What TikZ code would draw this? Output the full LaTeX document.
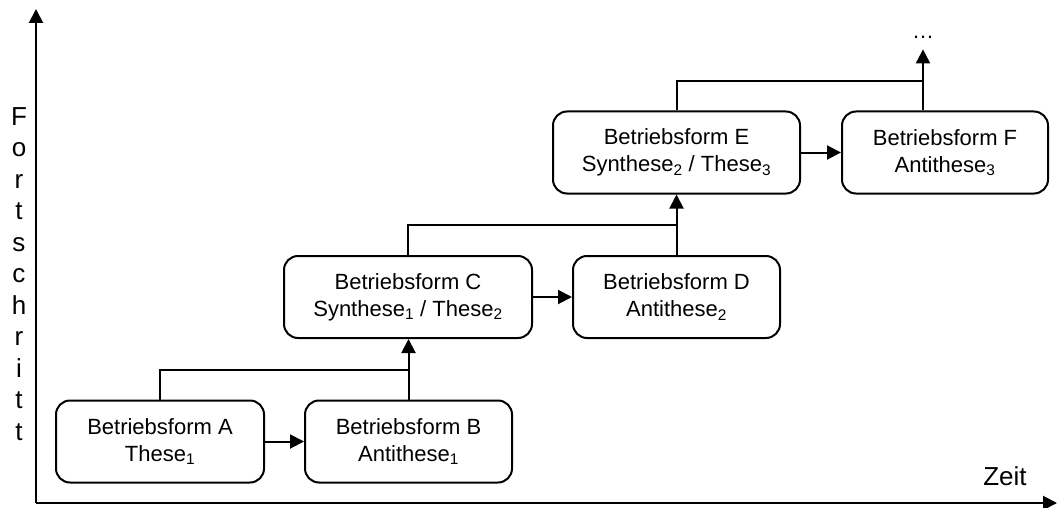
\documentclass[tikz,border=0pt]{standalone}
\usepackage{fontspec}
\setmainfont{Liberation Sans}
\usepackage{tikz}
\definecolor{white}{rgb}{1.0, 1.0, 1.0}
\definecolor{black}{rgb}{0.0, 0.0, 0.0}
\usetikzlibrary{arrows.meta}
\pgfdeclarelayer{edgelayer}
\pgfdeclarelayer{nodelayer}
\pgfsetlayers{edgelayer,nodelayer,main}
\tikzstyle{form}=[rectangle,rounded corners=14pt,fill=white,draw=black,line width=2pt,minimum height=82pt,align=center,font=\fontsize{22}{27}\selectfont]
\tikzstyle{axislabel}=[inner sep=0pt,font=\fontsize{26}{31}\selectfont]
\tikzstyle{link}=[line width=2pt,-{Triangle[length=14pt,width=14pt]}]

\begin{document}
\begin{tikzpicture}[x=1pt,y=-1pt]
        \useasboundingbox (0, 0) rectangle (1057, 508);
        \begin{pgfonlayer}{nodelayer}
            \node [style = form, minimum width=208pt] (a) at (160, 441.5) {Betriebsform A\\These\textsubscript{1}};
            \node [style = form, minimum width=207pt] (b) at (408.5, 441.5) {Betriebsform B\\Antithese\textsubscript{1}};

            \node [style = form, minimum width=248pt] (c) at (408, 297) {Betriebsform C\\Synthese\textsubscript{1} / These\textsubscript{2}};
            \node [style = form, minimum width=207pt] (d) at (676.5, 297) {Betriebsform D\\Antithese\textsubscript{2}};

            \node [style = form, minimum width=247pt] (e) at (676.5, 152.5) {Betriebsform E\\Synthese\textsubscript{2} / These\textsubscript{3}};
            \node [style = form, minimum width=206pt] (f) at (945, 152.5) {Betriebsform F\\Antithese\textsubscript{3}};

            \node [style = axislabel, inner ysep=11pt, font=\fontsize{22}{27}\selectfont] (dots) at (923, 37) {…};

            \node [style = axislabel, anchor=base] (zeit) at (1005, 485) {Zeit};
            \foreach \c [count=\i from 0] in {F,o,r,t,s,c,h,r,i,t,t}
                \node [style = axislabel, anchor=base] (fs\i) at (19, 125+31.5*\i) {\c};
        \end{pgfonlayer}

        \coordinate (origin) at (36, 503);
        \coordinate (ytip) at (36, 9);
        \coordinate (xtip) at (1057, 503);
        \coordinate (jab) at (408, 370);
        \coordinate (jcd) at (676.5, 225);
        \coordinate (jef) at (923, 81);

        \begin{pgfonlayer}{edgelayer}
            \draw [style = link] (origin) to (ytip);
            \draw [style = link] (origin) to (xtip);

            \draw [style = link] (a) to (b);
            \draw [style = link] (c) to (d);
            \draw [style = link] (e) to (f);

            \draw [line width=2pt] (a.north) |- (jab);
            \draw [style = link] (b.north) to (b.north |- c.south);

            \draw [line width=2pt] (c.north) |- (jcd);
            \draw [style = link] (d.north) to (e.south);

            \draw [line width=2pt] (e.north) |- (jef);
            \draw [style = link] (jef |- f.north) to (dots.south);
        \end{pgfonlayer}
\end{tikzpicture}
\end{document}
